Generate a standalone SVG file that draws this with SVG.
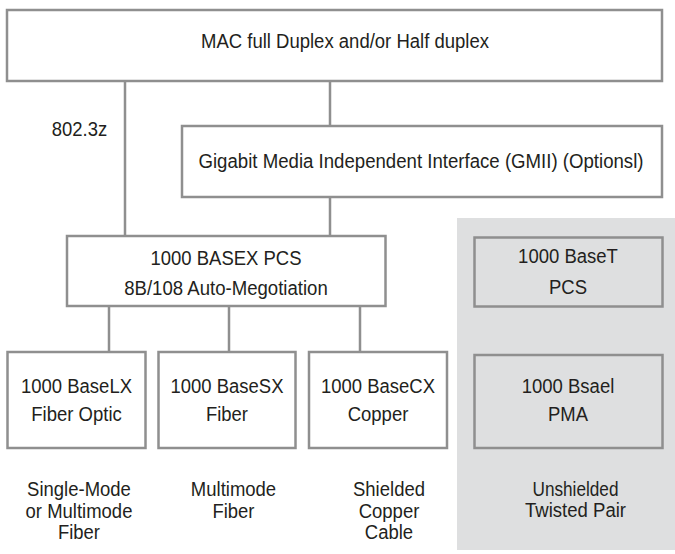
<svg xmlns="http://www.w3.org/2000/svg" width="675" height="554" viewBox="0 0 675 554">
  <style>
    .box { fill: #ffffff; stroke: #8f8f8f; stroke-width: 2.5; }
    .gbox { fill: #dedfe0; stroke: #8f8f8f; stroke-width: 2.5; }
    .wire { stroke: #8f8f8f; stroke-width: 2.5; fill: none; }
    text { font-family: "Liberation Sans", Arial, sans-serif; font-size: 19.5px; fill: #231f20; text-anchor: middle; }
  </style>

  <!-- shaded area for the twisted-pair stack -->
  <rect id="utp-panel" x="457" y="218" width="218" height="332" fill="#dedfe0"/>

  <g id="connectors">
    <line class="wire" x1="125" y1="81" x2="125" y2="236"/>
    <line class="wire" x1="330" y1="81" x2="330" y2="126"/>
    <line class="wire" x1="330" y1="197" x2="330" y2="236"/>
    <line class="wire" x1="109" y1="306" x2="109" y2="352"/>
    <line class="wire" x1="229" y1="306" x2="229" y2="352"/>
    <line class="wire" x1="360" y1="306" x2="360" y2="352"/>
  </g>

  <g id="mac">
    <rect class="box" x="7" y="10" width="655" height="71"/>
    <text x="345" y="48" textLength="288" lengthAdjust="spacingAndGlyphs">MAC full Duplex and/or Half duplex</text>
  </g>

  <g id="std-label">
    <text x="79.5" y="136" textLength="55.5" lengthAdjust="spacingAndGlyphs">802.3z</text>
  </g>

  <g id="gmii">
    <rect class="box" x="182" y="126" width="480" height="71"/>
    <text x="421" y="168" textLength="445" lengthAdjust="spacingAndGlyphs">Gigabit Media Independent Interface (GMII) (Optionsl)</text>
  </g>

  <g id="basex-pcs">
    <rect class="box" x="67" y="236" width="318.5" height="70"/>
    <text x="226" y="265" textLength="151" lengthAdjust="spacingAndGlyphs">1000 BASEX PCS</text>
    <text x="226" y="295" textLength="203.6" lengthAdjust="spacingAndGlyphs">8B/108 Auto-Megotiation</text>
  </g>

  <g id="baselx">
    <rect class="box" x="7.5" y="352" width="138" height="96"/>
    <text x="76.5" y="393" textLength="111" lengthAdjust="spacingAndGlyphs">1000 BaseLX</text>
    <text x="76.5" y="421" textLength="90.5" lengthAdjust="spacingAndGlyphs">Fiber Optic</text>
  </g>

  <g id="basesx">
    <rect class="box" x="158.5" y="352" width="137" height="96"/>
    <text x="227" y="393" textLength="113" lengthAdjust="spacingAndGlyphs">1000 BaseSX</text>
    <text x="227" y="421" textLength="42" lengthAdjust="spacingAndGlyphs">Fiber</text>
  </g>

  <g id="basecx">
    <rect class="box" x="309" y="352" width="138" height="96"/>
    <text x="378" y="393" textLength="114" lengthAdjust="spacingAndGlyphs">1000 BaseCX</text>
    <text x="378" y="421" textLength="60.7" lengthAdjust="spacingAndGlyphs">Copper</text>
  </g>

  <g id="lx-medium">
    <text x="79" y="496" textLength="103.8" lengthAdjust="spacingAndGlyphs">Single-Mode</text>
    <text x="79" y="518" textLength="106.9" lengthAdjust="spacingAndGlyphs">or Multimode</text>
    <text x="79" y="539" textLength="42" lengthAdjust="spacingAndGlyphs">Fiber</text>
  </g>

  <g id="sx-medium">
    <text x="233.5" y="496" textLength="85.3" lengthAdjust="spacingAndGlyphs">Multimode</text>
    <text x="233.5" y="518" textLength="42" lengthAdjust="spacingAndGlyphs">Fiber</text>
  </g>

  <g id="cx-medium">
    <text x="389" y="496" textLength="72" lengthAdjust="spacingAndGlyphs">Shielded</text>
    <text x="389" y="518" textLength="60.7" lengthAdjust="spacingAndGlyphs">Copper</text>
    <text x="389" y="539" textLength="48.3" lengthAdjust="spacingAndGlyphs">Cable</text>
  </g>

  <g id="baset-pcs">
    <rect class="gbox" x="474.5" y="237.5" width="188" height="69"/>
    <text x="568" y="263" textLength="99.8" lengthAdjust="spacingAndGlyphs">1000 BaseT</text>
    <text x="568" y="294" textLength="38" lengthAdjust="spacingAndGlyphs">PCS</text>
  </g>

  <g id="baset-pma">
    <rect class="gbox" x="474.5" y="355" width="188" height="93"/>
    <text x="568" y="393" textLength="92.6" lengthAdjust="spacingAndGlyphs">1000 Bsael</text>
    <text x="568" y="421" textLength="40" lengthAdjust="spacingAndGlyphs">PMA</text>
  </g>

  <g id="utp-medium">
    <text x="575.5" y="496" textLength="86" lengthAdjust="spacingAndGlyphs">Unshielded</text>
    <text x="575.5" y="517" textLength="101" lengthAdjust="spacingAndGlyphs">Twisted Pair</text>
  </g>
</svg>
